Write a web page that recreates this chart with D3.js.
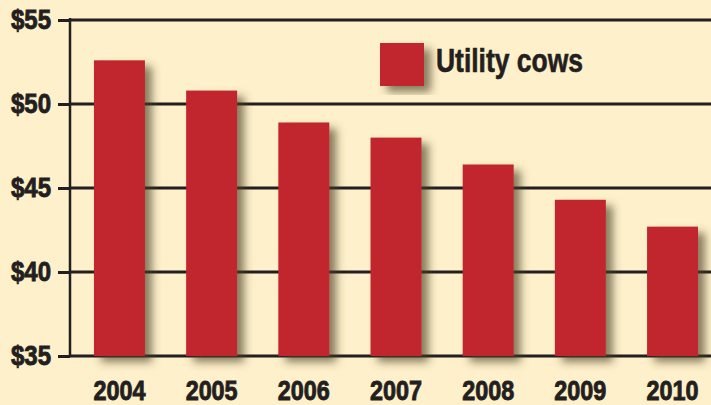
<!DOCTYPE html>
<html>
<head>
<meta charset="utf-8">
<script src="https://cdn.jsdelivr.net/npm/d3@7"></script>
<style>
  html, body { margin: 0; padding: 0; background: #fdf0ca; }
  svg { display: block; }
</style>
</head>
<body>
<div id="chart"></div>
<script>
// data
const years = ["2004", "2005", "2006", "2007", "2008", "2009", "2010"]
const utilityCows = [52.6, 50.8, 48.9, 48.0, 46.4, 44.3, 42.7]
const yTicks = [35, 40, 45, 50, 55]
const seriesName = "Utility cows"

const width = 711
const height = 405
const axisX = 70
const plotTop = 20
const plotBottom = 356
const ink = "#231f20"
const barColor = "#c1272d"
// condensed look: Liberation Sans bold squeezed with textLength, a thin stroke for weight
const font = "'Liberation Sans', Arial, sans-serif"

const svg = d3.select("#chart").append("svg")
    .attr("width", width).attr("height", height)

svg.append("rect").attr("width", width).attr("height", height).attr("fill", "#fdf0ca")

// shadow filter
const defs = svg.append("defs")
const f = defs.append("filter").attr("id", "shadow")
    .attr("x", "-20%").attr("y", "-20%").attr("width", "160%").attr("height", "140%")
f.append("feDropShadow")
    .attr("dx", 7).attr("dy", 6).attr("stdDeviation", 4)
    .attr("flood-color", "#4a3d22").attr("flood-opacity", 0.65)

// scales
const x = d3.scaleBand().domain(years)
    .range([axisX, 722])
    .paddingInner(0.447)
    .paddingOuter(0.26)

const y = d3.scaleLinear().domain([35, 55]).range([plotBottom, plotTop])

// gridlines
svg.append("g").selectAll("line").data(yTicks).join("line")
    .attr("x1", axisX).attr("x2", width)
    .attr("y1", d => y(d)).attr("y2", d => y(d))
    .attr("stroke", ink).attr("stroke-width", 3)

// y axis
const yAxis = d3.axisLeft(y).tickValues(yTicks).tickSize(12).tickPadding(7)
    .tickFormat(d => "$" + d)
const yGroup = svg.append("g").attr("transform", `translate(${axisX}, 0)`).call(yAxis)
yGroup.select(".domain").remove()
yGroup.selectAll(".tick line").attr("stroke", ink).attr("stroke-width", 3)
yGroup.selectAll(".tick text")
    .attr("fill", ink).attr("stroke", ink).attr("stroke-width", 0.9)
    .attr("textLength", 40).attr("lengthAdjust", "spacingAndGlyphs")
    .style("font-family", font).style("font-weight", "bold").style("font-size", "28px")

svg.append("line")
    .attr("x1", axisX).attr("x2", axisX)
    .attr("y1", plotTop - 2).attr("y2", plotBottom + 1)
    .attr("stroke", ink).attr("stroke-width", 2.5)

// bars
svg.append("g").selectAll("rect").data(utilityCows).join("rect")
    .attr("x", (d, i) => x(years[i]))
    .attr("width", x.bandwidth())
    .attr("y", d => y(d))
    .attr("height", d => plotBottom - y(d))
    .attr("fill", barColor)
    .attr("filter", "url(#shadow)")

// x labels
svg.append("g").selectAll("text").data(years).join("text")
    .attr("x", d => x(d) + x.bandwidth() / 2)
    .attr("y", 400)
    .attr("text-anchor", "middle")
    .attr("fill", ink).attr("stroke", ink).attr("stroke-width", 0.9)
    .attr("textLength", 52).attr("lengthAdjust", "spacingAndGlyphs")
    .style("font-family", font).style("font-weight", "bold").style("font-size", "28px")
    .text(d => d)

// legend
const legend = svg.append("g").attr("transform", "translate(380, 43)")
legend.append("rect").attr("width", 44).attr("height", 43)
    .attr("fill", barColor).attr("filter", "url(#shadow)")
legend.append("text")
    .attr("x", 56).attr("y", 29)
    .attr("fill", ink).attr("stroke", ink).attr("stroke-width", 0.6)
    .attr("textLength", 147).attr("lengthAdjust", "spacingAndGlyphs")
    .style("font-family", font).style("font-weight", "bold").style("font-size", "33px")
    .text(seriesName)
</script>
</body>
</html>
